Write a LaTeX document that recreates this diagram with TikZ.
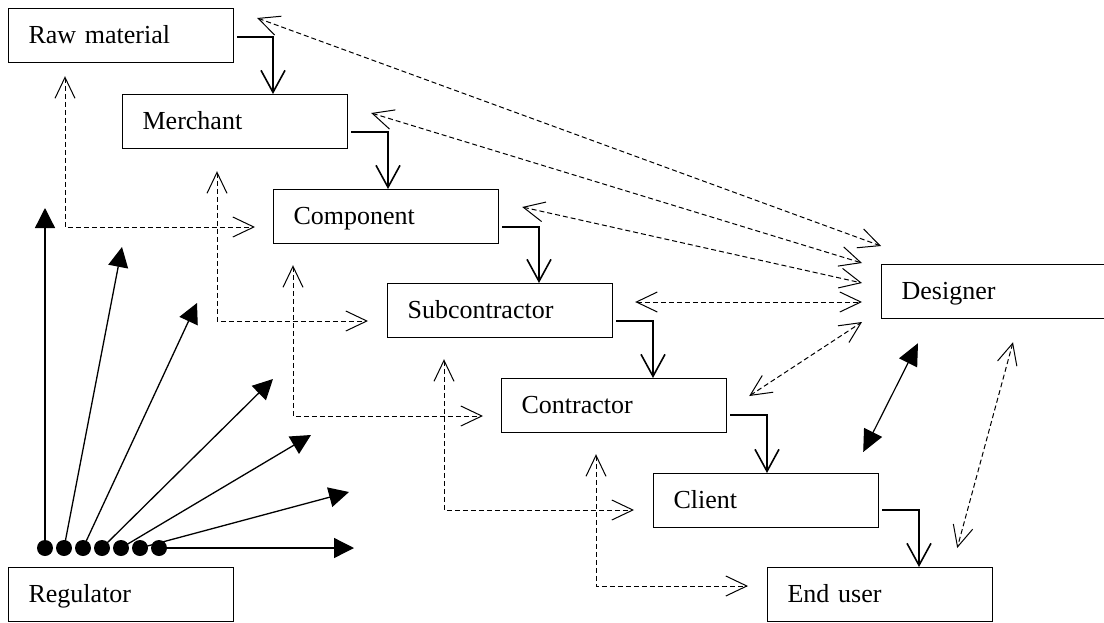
\documentclass[tikz,border=0pt]{standalone}
\usepackage{fontspec}
\setmainfont{Liberation Serif}
\usetikzlibrary{arrows.meta,calc}
\begin{document}
\begin{tikzpicture}[x=1pt,y=-1pt,
  box/.style={draw,line width=1.2pt,minimum width=225pt,minimum height=54pt,
    text width=185pt,inner xsep=20pt,inner ysep=0pt,align=left,
    text height=20pt,text depth=4pt,anchor=north west,
    font=\fontsize{26}{30}\selectfont},
  flow/.style={line width=2.2pt,-{Straight Barb[length=22pt,width=24pt,line width=1.6pt]}},
  barb/.tip={Straight Barb[length=21pt,width=20pt,line width=1pt]},
  link/.style={line width=1pt,dash pattern=on 5pt off 3pt,barb-barb},
  solidlink/.style={line width=1.2pt,{Triangle[length=22pt,width=20pt]}-{Triangle[length=22pt,width=20pt]}},
  regarrow/.style={line width=1.3pt,-{Triangle[length=20pt,width=20pt]}},
  dot/.style={circle,fill=black,minimum size=16pt,inner sep=0pt}
]
\fill[white] (0,0) rectangle (1104,622);
\useasboundingbox (0,0) rectangle (1104,622);

% boxes
\node[box] (raw) at (8,8) {Raw material};
\node[box] (merchant) at (122,94) {Merchant};
\node[box] (component) at (273,189) {Component};
\node[box] (subc) at (387,283) {Subcontractor};
\node[box] (contractor) at (501,378) {Contractor};
\node[box] (client) at (653,473) {Client};
\node[box] (enduser) at (767,567) {End user};
\node[box] (designer) at (881,264) {Designer};
\node[box] (regulator) at (8,567) {Regulator};

% main flow
\draw[flow] ($(raw.north east)+(3,29)$) -| ($(merchant.north west)+(151,0)$);
\draw[flow] ($(merchant.north east)+(3,38)$) -| ($(component.north west)+(115,0)$);
\draw[flow] ($(component.north east)+(3,38)$) -| ($(subc.north west)+(152,0)$);
\draw[flow] ($(subc.north east)+(3,38)$) -| ($(contractor.north west)+(152,0)$);
\draw[flow] ($(contractor.north east)+(3,37)$) -| ($(client.north west)+(114,0)$);
\draw[flow] ($(client.north east)+(3,37)$) -| ($(enduser.north west)+(152,0)$);

% feedback elbows
\draw[link] ($(raw.south west)+(57,13)$) |- ($(component.north west)+(-18,38)$);
\draw[link] ($(merchant.south west)+(95,22)$) |- ($(subc.north west)+(-19,38)$);
\draw[link] ($(component.south west)+(20,21)$) |- ($(contractor.north west)+(-18,38)$);
\draw[link] ($(subc.south west)+(57,21)$) |- ($(client.north west)+(-19,37)$);
\draw[link] ($(contractor.south west)+(95,21)$) |- ($(enduser.north west)+(-19,19)$);

% designer links
\draw[link] ($(raw.north east)+(23,10)$) -- ($(designer.north west)+(0,-18)$);
\draw[link] ($(merchant.north east)+(23,19)$) -- ($(designer.north west)+(-19,-1)$);
\draw[link] ($(component.north east)+(23,18)$) -- ($(designer.north west)+(-19,19)$);
\draw[link] ($(subc.north east)+(22,19)$) -- ($(designer.north west)+(-19,38)$);
\draw[link] ($(contractor.north east)+(22,18)$) -- ($(designer.north west)+(-19,58)$);
\draw[link] ($(designer.south west)+(132,23)$) -- ($(enduser.north east)+(-36,-19)$);
\draw[solidlink] ($(designer.south west)+(37,24)$) -- ($(client.north east)+(-16,-21)$);

% regulator fan
\coordinate (t1) at (45,208);
\coordinate (t2) at (122,247);
\coordinate (t3) at (197,303);
\coordinate (t4) at (273,379);
\coordinate (t5) at (311,435);
\coordinate (t6) at (349,492);
\coordinate (t7) at (354,548);
\foreach \i/\x in {1/45,2/64,3/83,4/102,5/121,6/140,7/159}{
  \coordinate (c\i) at (\x,548);
}
\foreach \i in {1,...,7}{
  \draw[regarrow] (c\i) -- (t\i);
}
\foreach \i in {1,...,7}{
  \node[dot] (d\i) at (c\i) {};
}
\end{tikzpicture}
\end{document}
